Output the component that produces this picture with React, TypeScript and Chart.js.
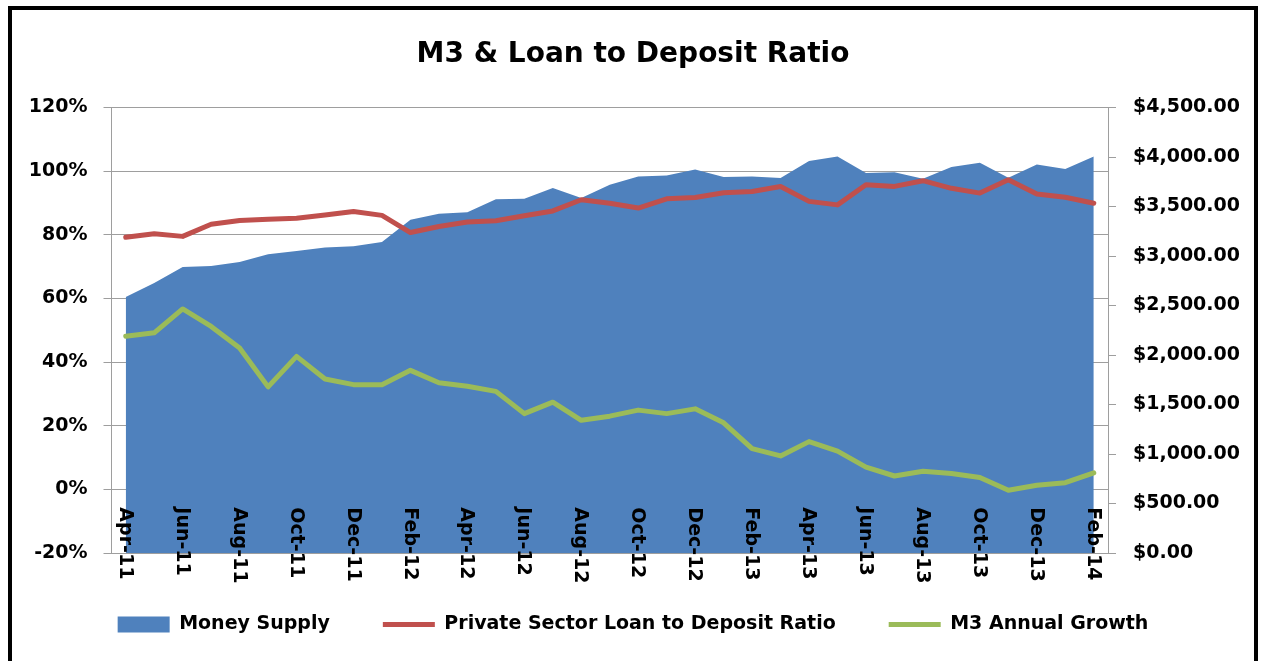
import React, { useEffect, useRef } from 'react';
import { Chart, registerables } from 'chart.js';

Chart.register(...registerables);

const FONT = '"DejaVu Sans"';
const BLUE = '#4F81BD';
const RED = '#C0504D';
const GREEN = '#9BBB59';
const GRID = '#9e9e9e';

const categories = [
  'Apr-11', 'May-11', 'Jun-11', 'Jul-11', 'Aug-11', 'Sep-11', 'Oct-11', 'Nov-11', 'Dec-11',
  'Jan-12', 'Feb-12', 'Mar-12', 'Apr-12', 'May-12', 'Jun-12', 'Jul-12', 'Aug-12', 'Sep-12',
  'Oct-12', 'Nov-12', 'Dec-12', 'Jan-13', 'Feb-13', 'Mar-13', 'Apr-13', 'May-13', 'Jun-13',
  'Jul-13', 'Aug-13', 'Sep-13', 'Oct-13', 'Nov-13', 'Dec-13', 'Jan-14', 'Feb-14',
];

const moneySupply = [
  2586, 2727, 2889, 2899, 2940, 3017, 3050, 3085, 3098, 3141, 3367, 3428, 3441, 3572, 3579,
  3686, 3585, 3720, 3804, 3814, 3875, 3797, 3804, 3787, 3959, 4006, 3838, 3845, 3781, 3898,
  3942, 3791, 3925, 3878, 4006,
];

const loanToDeposit = [
  79.2, 80.3, 79.5, 83.3, 84.5, 84.9, 85.2, 86.2, 87.3, 86.1, 80.7, 82.6, 84.0, 84.4, 86.0,
  87.5, 91.0, 89.9, 88.4, 91.3, 91.7, 93.2, 93.6, 95.2, 90.5, 89.4, 95.7, 95.2, 97.0, 94.6,
  93.1, 97.3, 92.8, 91.8, 89.9,
];

const m3Growth = [
  48.1, 49.2, 56.7, 51.2, 44.4, 32.2, 41.8, 34.7, 32.9, 32.9, 37.4, 33.5, 32.4, 30.8, 23.8,
  27.4, 21.7, 23.0, 24.9, 23.8, 25.3, 20.9, 12.8, 10.5, 15.0, 12.0, 7.0, 4.2, 5.7, 5.0,
  3.7, -0.3, 1.3, 2.1, 5.2,
];

const seriesNames = ['Money Supply', 'Private Sector Loan to Deposit Ratio', 'M3 Annual Growth'];
const titleText = 'M3 & Loan to Deposit Ratio';

export default function App() {
  const ref = useRef<HTMLCanvasElement>(null);

  useEffect(() => {
    if (!ref.current) return;
    Chart.defaults.font.family = FONT;
    Chart.defaults.color = '#000';

    const xLabelPlugin = {
      id: 'xLabels',
      afterDatasetsDraw(chart: any) {
        const xs = chart.scales.x;
        const ys = chart.scales.y;
        const y0 = ys.getPixelForValue(0);
        const ctx = chart.ctx;
        ctx.save();
        ctx.font = `bold 19px ${FONT}`;
        ctx.fillStyle = '#000';
        ctx.textAlign = 'left';
        ctx.textBaseline = 'middle';
        categories.forEach((lab, i) => {
          if (i % 2) return;
          const x = xs.getPixelForValue(i);
          ctx.save();
          ctx.translate(x - 1, y0 + 18);
          ctx.rotate(Math.PI / 2);
          ctx.fillText(lab, 0, 0);
          ctx.restore();
        });
        ctx.restore();
      },
    };

    const chart = new Chart(ref.current, {
      type: 'line',
      data: {
        labels: categories,
        datasets: [
          {
            label: seriesNames[0],
            data: moneySupply,
            yAxisID: 'y1',
            xAxisID: 'x',
            fill: 'start',
            backgroundColor: BLUE,
            borderColor: BLUE,
            borderWidth: 0,
            pointRadius: 0,
            pointStyle: 'rect',
            tension: 0,
          },
          {
            label: seriesNames[1],
            data: loanToDeposit,
            yAxisID: 'y',
            xAxisID: 'x',
            fill: false,
            backgroundColor: RED,
            borderColor: RED,
            borderWidth: 5,
            pointRadius: 0,
            pointStyle: 'line',
            borderJoinStyle: 'round',
            borderCapStyle: 'round',
            tension: 0,
          },
          {
            label: seriesNames[2],
            data: m3Growth,
            yAxisID: 'y',
            xAxisID: 'x',
            fill: false,
            backgroundColor: GREEN,
            borderColor: GREEN,
            borderWidth: 5,
            pointRadius: 0,
            pointStyle: 'line',
            borderJoinStyle: 'round',
            borderCapStyle: 'round',
            tension: 0,
          },
        ],
      },
      options: {
        animation: false,
        responsive: true,
        maintainAspectRatio: false,
        events: [],
        layout: { padding: { left: 0, right: 0, top: 0, bottom: 17 } },
        scales: {
          x: {
            type: 'category',
            position: { y: 0 } as any,
            offset: true,
            grid: {
              offset: true,
              drawOnChartArea: false,
              drawTicks: true,
              tickLength: 8,
              color: GRID,
              tickColor: (c: any) => (c.index % 2 === 0 ? GRID : 'rgba(0,0,0,0)'),
            },
            border: { display: true, color: GRID, width: 1 },
            ticks: { display: false, autoSkip: false },
          },
          x2: {
            type: 'category',
            position: 'bottom',
            display: true,
            grid: { display: false },
            border: { display: false },
            ticks: { display: false },
            afterFit: (s: any) => {
              s.height = 9;
            },
          },
          y: {
            position: 'left',
            min: -20,
            max: 120,
            ticks: {
              stepSize: 20,
              padding: 16,
              color: '#000',
              font: { size: 19, weight: 'bold' },
              callback: (v: any) => `${v}%`,
            },
            grid: { color: GRID, tickLength: 8 },
            border: { color: GRID },
            afterFit: (s: any) => {
              s.width = 99.5;
            },
          },
          y1: {
            position: 'right',
            min: 0,
            max: 4500,
            ticks: {
              stepSize: 500,
              padding: 17,
              color: '#000',
              font: { size: 19, weight: 'bold' },
              callback: (v: any) =>
                '$' +
                Number(v).toLocaleString('en-US', {
                  minimumFractionDigits: 2,
                  maximumFractionDigits: 2,
                }),
            },
            grid: { drawOnChartArea: false, tickLength: 8, color: GRID },
            border: { color: GRID },
            afterFit: (s: any) => {
              s.width = 146;
            },
          },
        },
        plugins: {
          filler: { drawTime: 'beforeDatasetsDraw' } as any,
          tooltip: { enabled: false },
          title: {
            display: true,
            text: titleText,
            color: '#000',
            font: { size: 28, weight: 'bold' },
            padding: { top: 27.5, bottom: 36.4 },
          },
          legend: {
            position: 'bottom',
            labels: {
              usePointStyle: true,
              pointStyleWidth: 52,
              boxHeight: 16,
              color: '#000',
              font: { size: 19, weight: 'bold' },
              padding: 53,
            },
          },
        },
      },
      plugins: [xLabelPlugin],
    });

    return () => chart.destroy();
  }, []);

  return (
    <div
      style={{
        position: 'fixed',
        left: 0,
        top: 0,
        width: 1264,
        height: 661,
        overflow: 'hidden',
        background: '#fff',
      }}
    >
      <div
        style={{
          position: 'absolute',
          left: 8,
          top: 6,
          width: 1250,
          height: 700,
          border: '4px solid #000',
          boxSizing: 'border-box',
        }}
      >
        <div style={{ position: 'absolute', left: 0, top: 0, width: 1242, height: 651 }}>
          <canvas ref={ref} />
        </div>
      </div>
    </div>
  );
}
